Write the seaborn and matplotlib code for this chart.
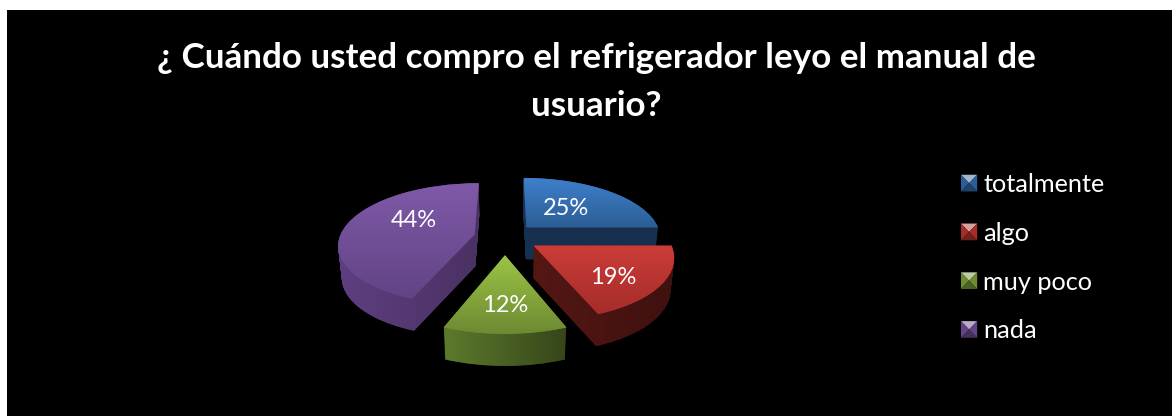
import numpy as np
import seaborn as sns
import matplotlib
matplotlib.use('Agg')
import matplotlib.pyplot as plt
from matplotlib.legend_handler import HandlerBase
from matplotlib.patches import Patch, PathPatch, Polygon
from matplotlib.path import Path
from matplotlib.transforms import Transform

title = '¿ Cuándo usted compro el refrigerador leyo el manual de\nusuario?'
labels = ['totalmente', 'algo', 'muy poco', 'nada']
values = [25, 19, 12, 44]

top_light = ['#3f80cc', '#cc3c38', '#9bc445', '#7f59a8']
top_dark = ['#2b5e96', '#a52d2a', '#6e8a33', '#624485']
wall_left = ['#17304f', '#541714', '#5c7a2c', '#5d3f80']
wall_right = ['#17304f', '#3f110f', '#36461a', '#4a3163']

explode = [0.23, 0.25, 0.29, 0.23]
label_pos = [(566, 209), (613, 278), (505, 306), (414, 221)]
draw_order = [0, 3, 1, 2]


class Perspective(Transform):
    # tilted plane of the pie, unit circle -> pixels
    input_dims = 2
    output_dims = 2

    def __init__(self, drop=0):
        super().__init__()
        self.drop = drop

    def transform_non_affine(self, xy):
        xy = np.asarray(xy)
        w = 1 + 0.156 * xy[:, 1]
        x = 505 + 135 * (1 - 0.0007 * self.drop) * xy[:, 0] / w
        y = 237 - 60 * xy[:, 1] / w + self.drop
        return np.column_stack([x, y])


class HandlerPyramid(HandlerBase):
    def create_artists(self, legend, orig_handle, xd, yd, w, h, fontsize, trans):
        c = np.array(matplotlib.colors.to_rgb(orig_handle.get_facecolor()))
        x0, y0 = -xd, -yd
        mid = (x0 + w / 2, y0 + h / 2)
        tl, tr = (x0, y0 + h), (x0 + w, y0 + h)
        bl, br = (x0, y0), (x0 + w, y0)
        faces = [([tl, tr, mid], 0.55), ([tl, bl, mid], 0.0), ([tr, br, mid], 0.0), ([bl, br, mid], -0.3)]
        artists = []
        for pts, amount in faces:
            col = c + (1 - c) * amount if amount > 0 else c * (1 + amount)
            artists.append(Polygon(pts, closed=True, facecolor=col, edgecolor='none', transform=trans))
        return artists


sns.set_theme(style='dark', rc={'axes.facecolor': 'black', 'figure.facecolor': 'white'})
plt.rcParams['font.family'] = ['Lato', 'DejaVu Sans']

fig = plt.figure(figsize=(11.72, 4.16), dpi=100)
ax = fig.add_axes([7 / 1172, 0, 1165 / 1172, 406 / 416])

wedges, _, autotexts = ax.pie(values, explode=explode, startangle=90, counterclock=False, radius=1,
                              autopct='%.0f%%', textprops={'color': 'white', 'fontsize': 17})
ax.set_aspect('auto')
ax.set_frame_on(True)
for spine in ax.spines.values():
    spine.set_visible(False)

for z, i in enumerate(draw_order):
    wedge = wedges[i]
    path = wedge.get_path()

    # side wall, the wedge swept downwards
    layers = [Perspective(d).transform_path(path) for d in np.arange(1, 33)]
    wall = PathPatch(Path.make_compound_path(*layers), facecolor=wall_right[i], edgecolor='none',
                     transform=ax.transData, zorder=z + 1)
    ax.add_patch(wall)
    box = wall.get_path().get_extents()
    cmap = sns.blend_palette([wall_left[i], wall_right[i]], 64, as_cmap=True)
    img = ax.imshow(np.linspace(0, 1, 64)[None, :], cmap=cmap, aspect='auto', zorder=z + 1.1,
                    extent=(box.x0, box.x1, box.y1, box.y0))
    img.set_clip_path(wall)

    # top face with its vertical gradient
    wedge.set_transform(Perspective(0) + ax.transData)
    wedge.set_facecolor(top_dark[i])
    wedge.set_edgecolor('none')
    wedge.set_zorder(z + 1.2)
    box = Perspective(0).transform_path(path).get_extents()
    cmap = sns.blend_palette([top_light[i], top_dark[i]], 64, as_cmap=True)
    img = ax.imshow(np.linspace(0, 1, 64)[:, None], cmap=cmap, aspect='auto', zorder=z + 1.3,
                    extent=(box.x0, box.x1, box.y1, box.y0))
    img.set_clip_path(wedge)

ax.set_xlim(7, 1172)
ax.set_ylim(416, 10)

for text, pos in zip(autotexts, label_pos):
    text.set_position(pos)
    text.set_ha('center')
    text.set_va('center')
    text.set_zorder(10)

handles = [Patch(facecolor=c) for c in top_dark]
leg = ax.legend(handles, labels, loc='upper left', bbox_to_anchor=(961, 173), bbox_transform=ax.transData,
                frameon=False, fontsize=18.2, labelcolor='white', borderpad=0, borderaxespad=0,
                handlelength=0.64, handleheight=0.64, handletextpad=0.25, labelspacing=1.02,
                handler_map={Patch: HandlerPyramid()})

fig.suptitle(title, x=596 / 1172, y=1 - 82 / 416, ha='center', va='center', color='white',
             fontsize=25.2, fontweight='bold', linespacing=1.65)

fig.savefig('out.png', dpi=100)
